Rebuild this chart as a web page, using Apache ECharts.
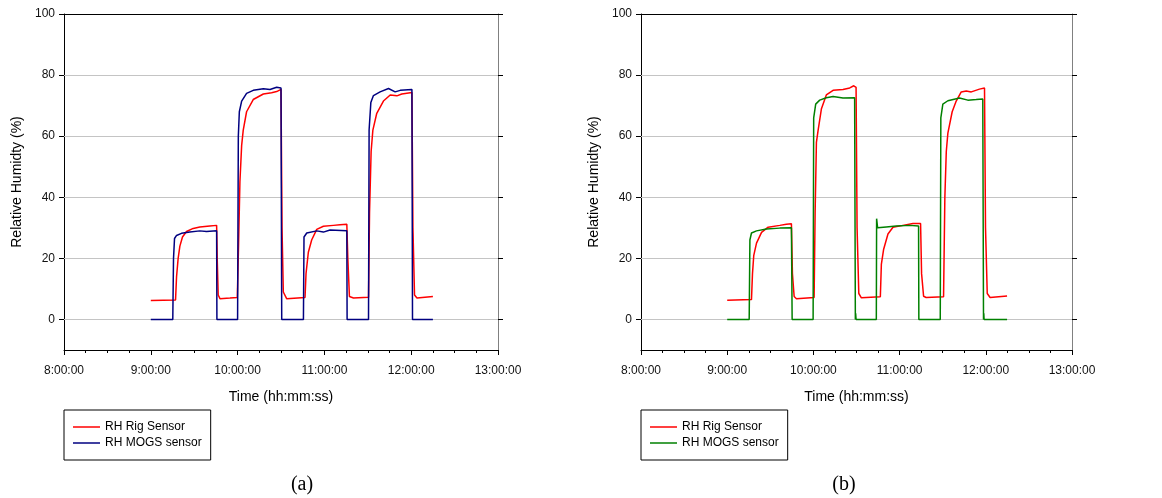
<!DOCTYPE html>
<html>
<head>
<meta charset="utf-8">
<script src="https://cdn.jsdelivr.net/npm/echarts@6/dist/echarts.min.js"></script>
<style>
html,body{margin:0;padding:0;background:#fff;}
#c{width:1162px;height:498px;}
</style>
</head>
<body>
<div id="c"></div>
<script>
// ---- tick labels ----
const xTickLabels = ['8:00:00','9:00:00','10:00:00','11:00:00','12:00:00','13:00:00'];
const yTicks = [0, 20, 40, 60, 80, 100];

// ---- chart (a): times in minutes after midnight ----
const rigA_t = [540,557.1,557.8,558.9,560.1,561.9,564.7,569.3,573.9,580.8,585.5,585.9,586.6,587.8,594.7,599.8,600.7,601.6,602.8,603.9,606.2,610.8,617.8,623.5,627,630,630.7,631.6,633.9,646.6,647.3,648.9,651.2,654.7,659.3,666.2,670.8,675.5,676.2,677.3,680.1,690.5,691.2,692.3,693.5,696.2,700.8,705.5,710.1,713.5,720.5,721.2,722.3,724,735];
const rigA_v = [6.2,6.4,14,20,24,27,28.8,29.8,30.3,30.6,30.8,20,8,6.8,7.0,7.2,25,45,57,62,68,72,73.8,74.2,74.6,75.3,30,9,6.8,7.2,15,22,26,29.5,30.5,30.8,31,31.2,20,7.5,7.0,7.3,35,55,62,67.5,71.5,73.5,73.2,73.8,74.3,30,8,7.0,7.5];
const mogsA_t = [540,555.2,555.7,556.4,557.8,561.2,567,573.9,578.5,585.5,585.7,600,600.5,601.2,602.8,606.2,610.8,617.8,622.4,627,630,630.5,645.5,645.9,647.8,654.7,659.3,663.9,675.5,675.7,690.5,690.9,692.1,693.9,698.5,704.3,708.9,712.4,720.5,720.9,735];
const mogsA_v = [0,0,20,26.5,27.5,28.2,28.6,29.0,28.8,29.0,0,0,60,68,71.5,74,75,75.5,75.3,76,75.8,0,0,27,28.3,29,28.6,29.3,29.0,0,0,62,71,73.3,74.5,75.6,74.5,75,75.3,0,0];

// ---- chart (b) ----
const rigB_t = [540,556.9,557.6,558.5,560.4,563.9,568.5,576.6,581.2,584.7,585.4,586.6,588.2,600.5,601.2,602.1,603.3,605.6,609,613.7,620.6,625.3,628.1,629.7,630.4,631.6,633.4,646.6,647.3,648.9,651.9,655.4,662.3,669.3,674.6,675.3,676.7,678.5,690.6,691.5,692.5,693.6,696.6,699.4,702.9,706.4,709.9,715.6,719.1,719.8,721,723,734.8];
const rigB_v = [6.3,6.5,15,21,25,28.5,30.2,30.8,31.2,31.3,15,7.5,6.8,7.2,35,58,62,69,73.5,75,75.3,75.8,76.5,76,30,8.5,7.1,7.4,18,23,28,30.2,30.8,31.4,31.4,15,7.6,7.2,7.4,40,55,61,68,71.5,74.5,74.8,74.5,75.4,75.8,30,8.5,7.2,7.7];
const mogsB_t = [540,555.3,555.8,556.9,560.4,567.3,576.6,584.7,585.2,599.8,600.2,601.6,604.4,609,613.7,620.6,628.7,629.2,629.4,629.7,643.8,644,644.7,650.7,657.7,667,673.2,673.4,688.3,688.7,690.1,693.6,701.7,707.5,713.3,717.9,718.4,718.6,718.8,734.8];
const mogsB_v = [0,0,26,28.3,29,29.6,29.9,30,0,0,66,70.5,71.8,72.6,73,72.5,72.6,0,2,0,0,33,30,30.3,30.6,30.8,30.6,0,0,66,70.5,71.6,72.5,71.8,72.0,72.2,0,2,0,0];

const zip = (t, v) => t.map((x, i) => [x, v[i]]);

const FONT = 'Liberation Sans';
const grids = [
  {left: 64, top: 14, width: 434, height: 336},
  {left: 641, top: 14, width: 431, height: 336}
];

function xAxes(gi) {
  return [{
    type: 'value', gridIndex: gi, position: 'bottom', min: 480, max: 780, interval: 60,
    axisLine: {show: true, onZero: false, lineStyle: {color: '#000', width: 1}},
    axisTick: {show: true, inside: false, length: 5, lineStyle: {color: '#000'}},
    minorTick: {show: true, splitNumber: 4, length: 3, lineStyle: {color: '#000'}},
    splitLine: {show: false},
    axisLabel: {margin: 15, fontFamily: FONT, fontSize: 12, color: '#111',
      formatter: v => xTickLabels[Math.round((v - 480) / 60)]},
    name: 'Time (hh:mm:ss)', nameLocation: 'middle', nameGap: 40,
    nameTextStyle: {fontFamily: FONT, fontSize: 14, color: '#000'}
  }, {
    type: 'value', gridIndex: gi, position: 'top', min: 480, max: 780,
    axisLine: {show: true, onZero: false, lineStyle: {color: '#000', width: 1}},
    axisTick: {show: false}, axisLabel: {show: false}, splitLine: {show: false}
  }];
}
function yAxes(gi) {
  return [{
    type: 'value', gridIndex: gi, position: 'left', min: -10, max: 100,
    axisLine: {show: true, onZero: false, lineStyle: {color: '#000', width: 1}},
    axisTick: {show: true, inside: false, length: 5, customValues: yTicks, lineStyle: {color: '#000'}},
    axisLabel: {customValues: yTicks, margin: 9, fontFamily: FONT, fontSize: 12, color: '#111'},
    splitLine: {show: false},
    name: 'Relative Humidty (%)', nameLocation: 'middle', nameGap: 40, nameRotate: 90,
    nameTextStyle: {fontFamily: FONT, fontSize: 14, color: '#000'}
  }, {
    type: 'value', gridIndex: gi, position: 'right', min: -10, max: 100,
    axisLine: {show: true, onZero: false, lineStyle: {color: '#808080', width: 1}},
    axisTick: {show: true, inside: false, length: 5, customValues: yTicks, lineStyle: {color: '#000'}},
    axisLabel: {show: false}, splitLine: {show: false}
  }];
}

const gridLines = {
  silent: true, symbol: 'none', animation: false, z: 1,
  label: {show: false},
  lineStyle: {color: '#c4c4c4', width: 1, type: 'solid'},
  data: yTicks.filter(v => v < 100).map(v => ({yAxis: v}))
};

function lineSeries(name, data, color, xi, yi, withGrid) {
  const s = {
    name, type: 'line', data, xAxisIndex: xi, yAxisIndex: yi, z: 3,
    showSymbol: false, symbol: 'none', animation: false,
    lineStyle: {color, width: 1.5}, itemStyle: {color}
  };
  if (withGrid) s.markLine = gridLines;
  return s;
}

function legend(left, color2) {
  return {
    orient: 'vertical', left, top: 410,
    data: [
      {name: 'RH Rig Sensor', icon: 'rect', itemStyle: {color: '#ff0000'}},
      {name: 'RH MOGS sensor', icon: 'rect', itemStyle: {color: color2}}
    ],
    itemWidth: 27, itemHeight: 1.5, itemGap: 4, itemTextGap: 7, selectedMode: false,
    borderColor: '#000', borderWidth: 1, borderRadius: 0,
    padding: [11, 9, 11, 9],
    textStyle: {fontFamily: FONT, fontSize: 12, color: '#000'}
  };
}

const chart = echarts.init(document.getElementById('c'), null, {renderer: 'canvas'});
chart.setOption({
  backgroundColor: '#fff',
  animation: false,
  grid: grids,
  xAxis: [...xAxes(0), ...xAxes(1)],
  yAxis: [...yAxes(0), ...yAxes(1)],
  legend: [legend(64, '#000080'), legend(641, '#008000')],
  title: [
    {text: '(a)', left: 297, top: 470, textAlign: 'center',
      textStyle: {fontFamily: 'Liberation Serif', fontSize: 20, fontWeight: 'normal', color: '#000'}},
    {text: '(b)', left: 839, top: 470, textAlign: 'center',
      textStyle: {fontFamily: 'Liberation Serif', fontSize: 20, fontWeight: 'normal', color: '#000'}}
  ],
  series: [
    lineSeries('RH Rig Sensor', zip(rigA_t, rigA_v), '#ff0000', 0, 0, true),
    lineSeries('RH MOGS sensor', zip(mogsA_t, mogsA_v), '#000080', 0, 0, false),
    lineSeries('RH Rig Sensor', zip(rigB_t, rigB_v), '#ff0000', 2, 2, true),
    lineSeries('RH MOGS sensor', zip(mogsB_t, mogsB_v), '#008000', 2, 2, false)
  ]
});
</script>
</body>
</html>
